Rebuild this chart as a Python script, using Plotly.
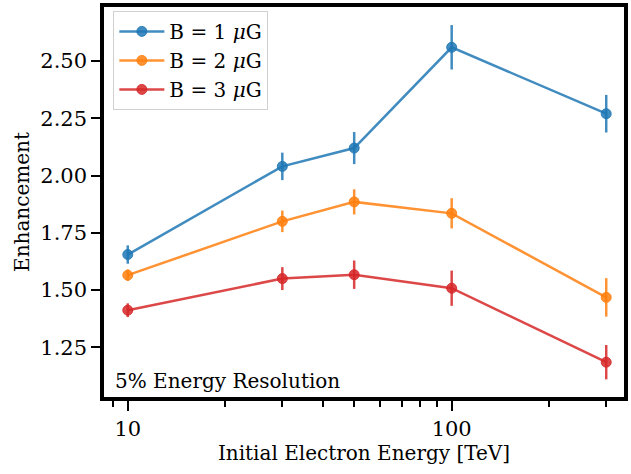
import plotly.graph_objects as go

# Initial electron energies [TeV]
energy = [10, 30, 50, 100, 300]

# Enhancement and 1-sigma uncertainty per magnetic field strength
enh_b1 = [1.655, 2.04, 2.12, 2.56, 2.27]
err_b1 = [0.04, 0.06, 0.07, 0.097, 0.082]
enh_b2 = [1.565, 1.80, 1.885, 1.835, 1.468]
err_b2 = [0.025, 0.047, 0.055, 0.066, 0.084]
enh_b3 = [1.412, 1.55, 1.567, 1.508, 1.185]
err_b3 = [0.03, 0.05, 0.062, 0.077, 0.075]

labels = ["B = 1 <i>μ</i>G", "B = 2 <i>μ</i>G", "B = 3 <i>μ</i>G"]
colors = ["rgba(31,119,180,0.85)", "rgba(255,127,14,0.85)", "rgba(214,39,40,0.85)"]

FONT = "DejaVu Serif"

fig = go.Figure()
for y, e, name, c in zip([enh_b1, enh_b2, enh_b3], [err_b1, err_b2, err_b3], labels, colors):
    fig.add_trace(go.Scatter(
        x=energy, y=y, name=name, mode="lines+markers",
        line=dict(color=c, width=2.5),
        marker=dict(size=10, color=c, line=dict(color=c, width=1)),
        error_y=dict(type="data", array=e, visible=True, color=c, thickness=2.5, width=0),
    ))

fig.add_annotation(
    text="5% Energy Resolution", xref="paper", yref="paper",
    x=0.018, y=0.006, xanchor="left", yanchor="bottom", showarrow=False,
    font=dict(family=FONT, size=20, color="black"),
)

fig.update_layout(
    width=631, height=474,
    margin=dict(l=104, r=3, t=3, b=77),
    paper_bgcolor="white", plot_bgcolor="white",
    font=dict(family=FONT, size=20, color="black"),
    showlegend=True,
    legend=dict(
        x=0.018, y=0.99, xanchor="left", yanchor="top",
        bgcolor="rgba(255,255,255,0.9)", bordercolor="#d0d0d0", borderwidth=1,
        font=dict(family=FONT, size=20), tracegroupgap=0, itemwidth=45,
    ),
)

fig.update_xaxes(
    type="log", range=[0.9266, 2.532],
    tickvals=[10, 100], ticktext=["10", "100"],
    ticks="outside", ticklen=10, tickwidth=2, tickcolor="black",
    minor=dict(ticks="outside", ticklen=6, tickwidth=1.5, tickcolor="black",
               dtick="D1", showgrid=False),
    showline=True, linecolor="black", linewidth=3.5, mirror=True,
    showgrid=False, zeroline=False,
    title=dict(text="Initial Electron Energy [TeV]", font=dict(family=FONT, size=20), standoff=4),
    tickfont=dict(family=FONT, size=21),
)
fig.update_yaxes(
    range=[1.033, 2.736],
    tickvals=[1.25, 1.5, 1.75, 2.0, 2.25, 2.5], tickformat=".2f",
    ticks="outside", ticklen=9, tickwidth=2, tickcolor="black",
    showline=True, linecolor="black", linewidth=3.5, mirror=True,
    showgrid=False, zeroline=False,
    title=dict(text="Enhancement", font=dict(family=FONT, size=20), standoff=6),
    tickfont=dict(family=FONT, size=21),
)

fig.write_html("out.html")
